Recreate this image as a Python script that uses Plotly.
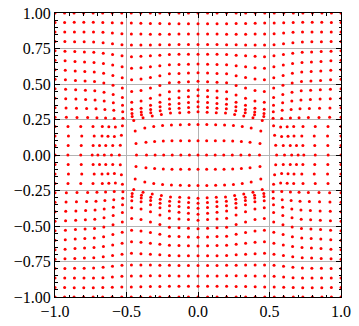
import numpy as np
import plotly.graph_objects as go

# Undistorted grid (31 x 31 points on [-1, 1])
GRID = [-1.0, -0.9333, -0.8667, -0.8, -0.7333, -0.6667, -0.6, -0.5333, -0.4667, -0.4,
        -0.3333, -0.2667, -0.2, -0.1333, -0.0667, 0.0, 0.0667, 0.1333, 0.2, 0.2667,
        0.3333, 0.4, 0.4667, 0.5333, 0.6, 0.6667, 0.7333, 0.8, 0.8667, 0.9333, 1.0]
HALF = [0.0, 0.0667, 0.1333, 0.2, 0.2667, 0.3333, 0.4, 0.4667, 0.5333, 0.6,
        0.6667, 0.7333, 0.8, 0.8667, 0.9333, 1.0]

# Where each row (|y| of grid line) ends up, read at several |x| positions
TOP_COLS_X = [0.0, 0.2, 0.3, 0.4, 0.48, 0.55, 0.7, 1.0]
TOP_MAP = [
    [0, 0.100, 0.215, 0.305, 0.340, 0.375, 0.418, 0.460, 0.520, 0.580, 0.640, 0.710, 0.778, 0.852, 0.925, 1],
    [0, 0.100, 0.212, 0.295, 0.325, 0.357, 0.395, 0.445, 0.508, 0.572, 0.636, 0.708, 0.777, 0.851, 0.925, 1],
    [0, 0.097, 0.205, 0.280, 0.305, 0.330, 0.360, 0.410, 0.480, 0.550, 0.625, 0.700, 0.775, 0.850, 0.926, 1],
    [0, 0.090, 0.190, 0.262, 0.283, 0.303, 0.330, 0.380, 0.455, 0.535, 0.615, 0.695, 0.775, 0.852, 0.928, 1],
    [0, 0.080, 0.165, 0.240, 0.268, 0.290, 0.320, 0.370, 0.445, 0.528, 0.610, 0.692, 0.775, 0.853, 0.930, 1],
    [0, 0.066, 0.130, 0.195, 0.255, 0.310, 0.360, 0.415, 0.480, 0.550, 0.625, 0.700, 0.778, 0.855, 0.930, 1],
    [0, 0.067, 0.133, 0.200, 0.262, 0.324, 0.386, 0.450, 0.515, 0.582, 0.650, 0.722, 0.795, 0.866, 0.935, 1],
    [0, 0.0667, 0.1333, 0.2, 0.2667, 0.3333, 0.4, 0.4667, 0.5333, 0.6, 0.6667, 0.7333, 0.8, 0.8667, 0.9333, 1],
]
# Where each column (|x| of grid line) ends up, read at several |y| positions
SIDE_ROWS_Y = [0.0, 0.1, 0.18, 0.25, 0.4, 0.7, 1.0]
SIDE_MAP = [
    [0, 0.060, 0.120, 0.180, 0.240, 0.300, 0.360, 0.430, 0.550, 0.605, 0.655, 0.700, 0.740, 0.820, 0.910, 1],
    [0, 0.061, 0.122, 0.183, 0.244, 0.305, 0.366, 0.435, 0.540, 0.592, 0.640, 0.683, 0.730, 0.815, 0.907, 1],
    [0, 0.063, 0.126, 0.190, 0.253, 0.316, 0.380, 0.445, 0.530, 0.575, 0.615, 0.655, 0.720, 0.810, 0.905, 1],
    [0, 0.066, 0.132, 0.198, 0.264, 0.330, 0.395, 0.460, 0.525, 0.585, 0.645, 0.705, 0.770, 0.845, 0.920, 1],
    [0, 0.067, 0.133, 0.200, 0.266, 0.332, 0.398, 0.463, 0.528, 0.592, 0.656, 0.720, 0.786, 0.854, 0.925, 1],
    [0, 0.067, 0.133, 0.200, 0.267, 0.333, 0.399, 0.465, 0.531, 0.597, 0.662, 0.728, 0.794, 0.861, 0.930, 1],
    [0, 0.0667, 0.1333, 0.2, 0.2667, 0.3333, 0.4, 0.4667, 0.5333, 0.6, 0.6667, 0.7333, 0.8, 0.8667, 0.9333, 1],
]

half = np.array(HALF)
gx, gy = np.meshgrid(np.array(GRID), np.array(GRID))
ax, ay = np.abs(gx), np.abs(gy)

ycols = np.stack([np.interp(ay, half, col) for col in TOP_MAP], axis=-1)
xrows = np.stack([np.interp(ax, half, row) for row in SIDE_MAP], axis=-1)
new_ay = np.empty_like(ay)
new_ax = np.empty_like(ax)
for i in range(ay.shape[0]):
    for j in range(ay.shape[1]):
        new_ay[i, j] = np.interp(ax[i, j], TOP_COLS_X, ycols[i, j])
        new_ax[i, j] = np.interp(ay[i, j], SIDE_ROWS_Y, xrows[i, j])

px = (np.sign(gx) * new_ax).ravel()
py = (np.sign(gy) * new_ay).ravel()

fig = go.Figure(go.Scatter(
    x=px, y=py, mode="markers",
    marker=dict(color="#ff0000", size=3, line=dict(width=0)),
    cliponaxis=True, showlegend=False, hoverinfo="skip",
))

font = dict(family="Liberation Serif, DejaVu Serif, serif", size=16, color="black")
axis_common = dict(
    showline=True, linecolor="black", linewidth=1, mirror="ticks",
    ticks="inside", ticklen=5, tickwidth=1, tickcolor="black",
    showgrid=True, gridcolor="#b4b4b4", gridwidth=1,
    zeroline=False, tickfont=font, automargin=False,
)
fig.update_xaxes(range=[-1, 1], tick0=-1, dtick=0.5, tickformat=".1f",
                 minor=dict(ticks="inside", dtick=0.1, ticklen=2.5, tickcolor="black", showgrid=False),
                 **axis_common)
fig.update_yaxes(range=[-1, 1], tick0=-1, dtick=0.25, tickformat=".2f",
                 minor=dict(ticks="inside", dtick=0.05, ticklen=2.5, tickcolor="black", showgrid=False),
                 **axis_common)
fig.update_layout(
    width=359, height=326,
    margin=dict(l=55, r=18, t=13, b=29),
    plot_bgcolor="white", paper_bgcolor="white",
    font=font,
)
fig.write_html("out.html", config={"displayModeBar": False},
               post_script="document.body.style.margin='0px';")
